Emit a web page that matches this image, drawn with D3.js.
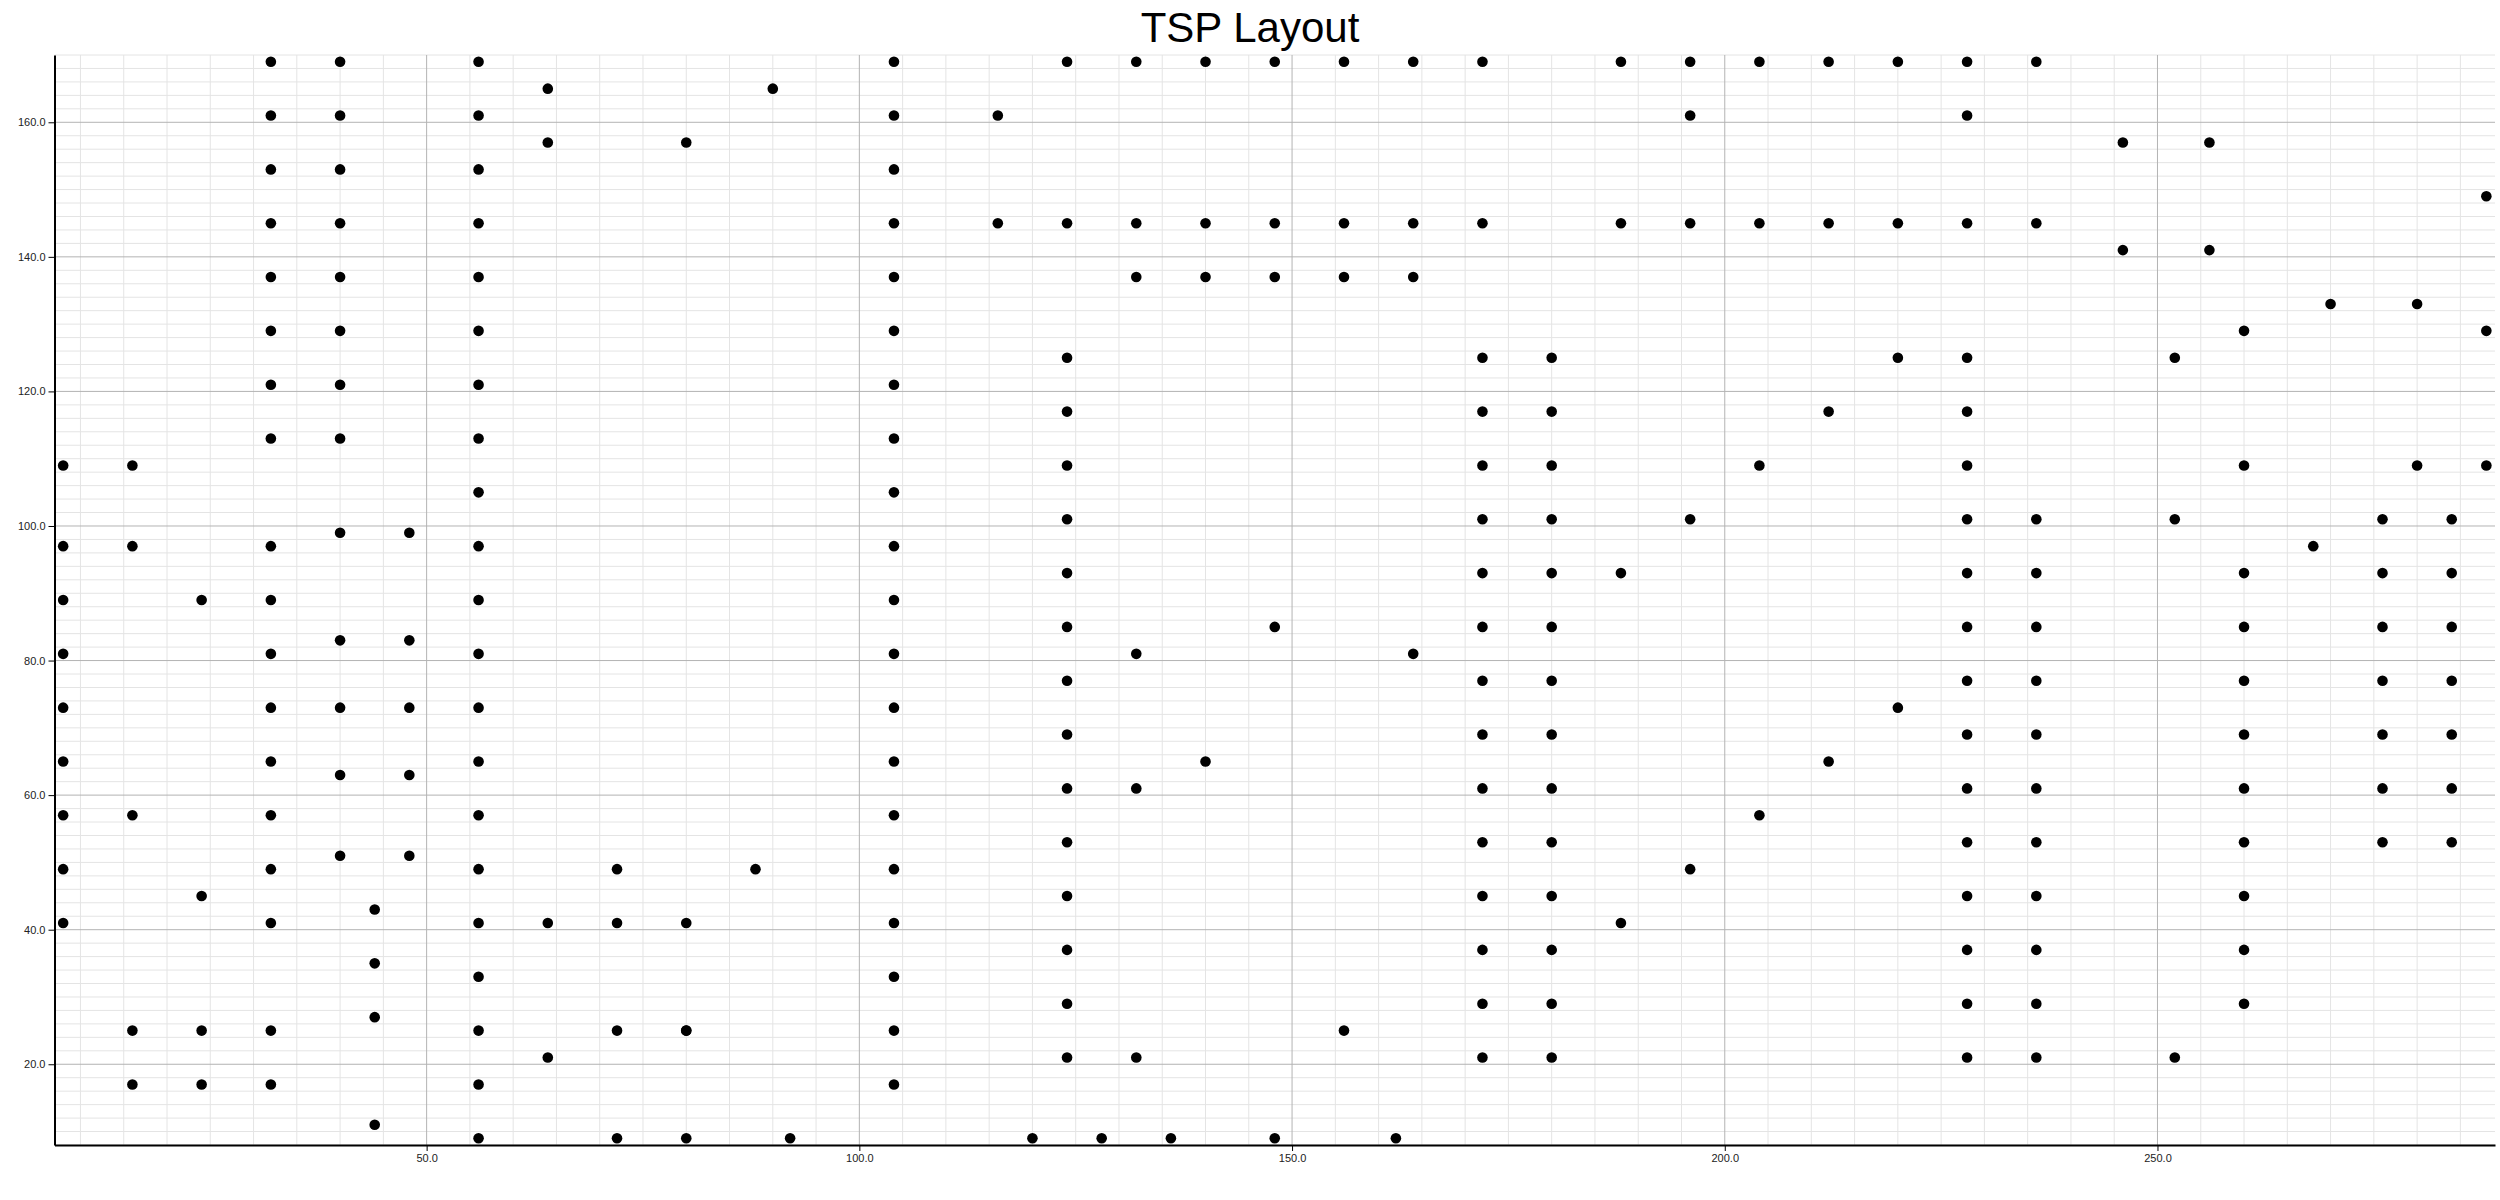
<!DOCTYPE html>
<html>
<head>
<meta charset="utf-8">
<script src="https://cdn.jsdelivr.net/npm/d3@7"></script>
<style>
  html, body { margin: 0; padding: 0; background: #fff; }
  svg { display: block; font-family: "Liberation Sans", Arial, sans-serif; }
  .minor line { stroke: #e4e4e4; stroke-width: 1; }
  .major line { stroke: #b3b3b3; stroke-width: 1; }
  .axis path, .axis line { stroke: #000; }
  .axis path { stroke-width: 2; }
  .axis text { font-size: 11px; fill: #222; }
  .title { font-size: 42px; fill: #000; }
</style>
</head>
<body>
<div id="chart"></div>
<script>
// TSP city coordinates, in tour-file order (10 per line)
const cityX = [
  288, 288, 270, 256, 256, 246, 236, 228, 228, 220,
  212, 204, 196, 188, 196, 188, 172, 164, 156, 148,
  140, 148, 164, 172, 156, 140, 132, 124, 116, 104,
  104, 104, 90, 80, 64, 64, 56, 56, 56, 56,
  56, 56, 56, 40, 40, 40, 40, 40, 40, 40,
  32, 32, 32, 32, 32, 32, 32, 32, 40, 56,
  56, 48, 40, 32, 32, 24, 16, 16, 8, 8,
  8, 8, 8, 8, 8, 16, 8, 8, 24, 32,
  32, 32, 32, 32, 32, 40, 40, 40, 40, 44,
  44, 44, 32, 24, 16, 16, 24, 32, 44, 56,
  56, 56, 56, 56, 64, 72, 72, 56, 48, 56,
  56, 48, 48, 56, 56, 48, 56, 56, 104, 104,
  104, 104, 104, 104, 104, 116, 124, 132, 132, 140,
  148, 156, 164, 172, 172, 172, 172, 172, 172, 180,
  180, 180, 180, 180, 172, 172, 172, 172, 164, 148,
  124, 124, 124, 124, 124, 124, 104, 104, 104, 104,
  104, 104, 104, 104, 104, 92, 80, 72, 64, 72,
  80, 80, 80, 88, 104, 124, 124, 132, 140, 132,
  124, 124, 124, 124, 124, 132, 124, 120, 128, 136,
  148, 162, 156, 172, 180, 180, 172, 172, 172, 180,
  180, 188, 196, 204, 212, 220, 228, 228, 236, 236,
  236, 228, 228, 236, 236, 228, 228, 236, 236, 228,
  228, 236, 252, 260, 260, 260, 260, 260, 260, 260,
  276, 276, 276, 276, 284, 284, 284, 284, 284, 284,
  284, 288, 280, 276, 276, 276, 268, 260, 252, 260,
  260, 236, 228, 228, 236, 236, 228, 228, 228, 228,
  220, 212, 204, 196, 188, 180, 180, 180, 180, 180,
  196, 204, 212, 220, 228, 236, 246, 252, 260, 280
];
const cityY = [
  149, 129, 133, 141, 157, 157, 169, 169, 161, 169,
  169, 169, 169, 169, 161, 145, 145, 145, 145, 145,
  145, 169, 169, 169, 169, 169, 169, 169, 161, 153,
  161, 169, 165, 157, 157, 165, 169, 161, 153, 145,
  137, 129, 121, 121, 129, 137, 145, 153, 161, 169,
  169, 161, 153, 145, 137, 129, 121, 113, 113, 113,
  105, 99, 99, 97, 89, 89, 97, 109, 109, 97,
  89, 81, 73, 65, 57, 57, 49, 41, 45, 41,
  49, 57, 65, 73, 81, 83, 73, 63, 51, 43,
  35, 27, 25, 25, 25, 17, 17, 17, 11, 9,
  17, 25, 33, 41, 41, 41, 49, 49, 51, 57,
  65, 63, 73, 73, 81, 83, 89, 97, 97, 105,
  113, 121, 129, 137, 145, 145, 145, 145, 137, 137,
  137, 137, 137, 125, 117, 109, 101, 93, 85, 85,
  77, 69, 61, 53, 53, 61, 69, 77, 81, 85,
  85, 93, 109, 125, 117, 101, 89, 81, 73, 65,
  49, 41, 33, 25, 17, 9, 9, 9, 21, 25,
  25, 25, 41, 49, 57, 69, 77, 81, 65, 61,
  61, 53, 45, 37, 29, 21, 21, 9, 9, 9,
  9, 9, 25, 21, 21, 29, 29, 37, 45, 45,
  37, 41, 49, 57, 65, 73, 69, 77, 77, 69,
  61, 61, 53, 53, 45, 45, 37, 37, 29, 29,
  21, 21, 21, 29, 37, 45, 53, 61, 69, 77,
  77, 69, 61, 53, 53, 61, 69, 77, 85, 93,
  101, 109, 109, 101, 93, 85, 97, 109, 101, 93,
  85, 85, 85, 93, 93, 101, 101, 109, 117, 125,
  125, 117, 109, 101, 93, 93, 101, 109, 117, 125,
  145, 145, 145, 145, 145, 145, 141, 125, 129, 133
];

const xDomain = [7, 289];
const yDomain = [8, 170];
const xMajorTicks = [50, 100, 150, 200, 250];
const yMajorTicks = [20, 40, 60, 80, 100, 120, 140, 160];
const titleText = "TSP Layout";

const width = 2500, height = 1200;
const margin = { top: 55, right: 5, bottom: 55, left: 54.5 };

const svg = d3.select("#chart").append("svg")
  .attr("width", width)
  .attr("height", height);

const x = d3.scaleLinear().domain(xDomain).range([margin.left, width - margin.right]);
const y = d3.scaleLinear().domain(yDomain).range([height - margin.bottom, margin.top]);

// minor grid: every 5 in x, every 2 in y
const xMinor = d3.range(10, xDomain[1] + 0.1, 5).filter(v => v % 50 !== 0);
const yMinor = d3.range(8, yDomain[1] + 0.1, 2).filter(v => v % 20 !== 0);

const minor = svg.append("g").attr("class", "minor");
minor.selectAll("line.vx").data(xMinor).join("line")
  .attr("x1", d => x(d)).attr("x2", d => x(d))
  .attr("y1", y(yDomain[0])).attr("y2", y(yDomain[1]));
minor.selectAll("line.hy").data(yMinor).join("line")
  .attr("y1", d => y(d)).attr("y2", d => y(d))
  .attr("x1", x(xDomain[0])).attr("x2", x(xDomain[1]));

const major = svg.append("g").attr("class", "major");
major.selectAll("line.vx").data(xMajorTicks).join("line")
  .attr("x1", d => x(d)).attr("x2", d => x(d))
  .attr("y1", y(yDomain[0])).attr("y2", y(yDomain[1]));
major.selectAll("line.hy").data(yMajorTicks).join("line")
  .attr("y1", d => y(d)).attr("y2", d => y(d))
  .attr("x1", x(xDomain[0])).attr("x2", x(xDomain[1]));

// axes
const fmt = d3.format(".1f");
svg.append("g")
  .attr("class", "axis")
  .attr("transform", `translate(0,${height - margin.bottom})`)
  .call(d3.axisBottom(x).tickValues(xMajorTicks).tickFormat(fmt).tickSizeOuter(0));
svg.append("g")
  .attr("class", "axis")
  .attr("transform", `translate(${margin.left},0)`)
  .call(d3.axisLeft(y).tickValues(yMajorTicks).tickFormat(fmt).tickSizeOuter(0));

// cities
svg.append("g").selectAll("circle")
  .data(d3.range(cityX.length))
  .join("circle")
  .attr("cx", i => x(cityX[i]))
  .attr("cy", i => y(cityY[i]))
  .attr("r", 5.3)
  .attr("fill", "#000");

svg.append("text")
  .attr("class", "title")
  .attr("x", width / 2)
  .attr("y", 42)
  .attr("text-anchor", "middle")
  .text(titleText);
</script>
</body>
</html>
